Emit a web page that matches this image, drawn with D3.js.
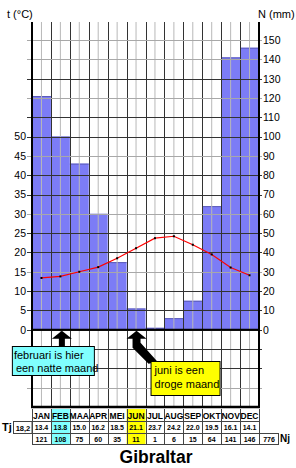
<!DOCTYPE html>
<html>
<head>
<meta charset="utf-8">
<script src="https://cdn.jsdelivr.net/npm/d3@7"></script>
<style>
  body { margin: 0; background: #fff; }
  svg { display: block; font-family: "Liberation Sans", Arial, sans-serif; }
</style>
</head>
<body>
<div id="chart"></div>
<script>
// climate data Gibraltar
const months = ["JAN", "FEB", "MAA", "APR", "MEI", "JUN", "JUL", "AUG", "SEP", "OKT", "NOV", "DEC"];
const tempValues = [13.4, 13.8, 15.0, 16.2, 18.5, 21.1, 23.7, 24.2, 22.0, 19.5, 16.1, 14.1];
const precipBars = [121, 100, 86, 60, 35, 11, 1, 6, 15, 64, 141, 146];
const tempLabels = ["13.4", "13.8", "15.0", "16.2", "18.5", "21.1", "23.7", "24.2", "22.0", "19.5", "16.1", "14.1"];
const precipLabels = ["121", "108", "75", "60", "35", "11", "1", "6", "15", "64", "141", "146"];
const yearTemp = "18,2";
const yearPrecip = "776";
const tempTicks = [0, 5, 10, 15, 20, 25, 30, 35, 40, 45, 50];
const precipTicks = [0, 10, 20, 30, 40, 50, 60, 70, 80, 90, 100, 110, 120, 130, 140, 150];
const gridValues = [-30, -20, -10, 0, 10, 20, 30, 40, 50, 60, 70, 80, 90, 100, 110, 120, 130, 140, 150];
const notes = [
  { month: "FEB", lines: ["februari is hier", "een natte maand"] },
  { month: "JUN", lines: ["juni is een", "droge maand"] }
];

const width = 296, height = 468;
const left = 32, right = 259, gridTop = 22, bottom = 407;
const hiColor = { FEB: "#80ffff", JUN: "#ffff00" };

const svg = d3.select("#chart").append("svg")
  .attr("width", width)
  .attr("height", height);

const x = d3.scaleBand().domain(months).range([left, right]);
const y = d3.scaleLinear().domain([-40, 150]).range([bottom, 40]);      // mm
const yT = d3.scaleLinear().domain([-20, 75]).range([bottom, 40]);      // °C (1°C = 2mm)
const bw = x.bandwidth();
const cx = m => x(m) + bw / 2;

// precipitation bars
svg.append("g").selectAll("rect")
  .data(months)
  .enter().append("rect")
  .attr("x", d => x(d))
  .attr("y", (d, i) => y(precipBars[i]))
  .attr("width", bw)
  .attr("height", (d, i) => y(0) - y(precipBars[i]))
  .style("fill", "#7c7cf6");

svg.append("g").selectAll("line")
  .data(months)
  .enter().append("line")
  .attr("x1", d => x(d)).attr("x2", d => x(d) + bw)
  .attr("y1", (d, i) => y(precipBars[i]) + 0.5)
  .attr("y2", (d, i) => y(precipBars[i]) + 0.5)
  .style("stroke", "#5b5bb8");

// grid
svg.append("g").selectAll("line")
  .data(months)
  .enter().append("line")
  .attr("x1", d => cx(d)).attr("x2", d => cx(d))
  .attr("y1", gridTop).attr("y2", bottom)
  .style("stroke", "#b8b8b8");

svg.append("g").selectAll("line")
  .data(months.slice(1))
  .enter().append("line")
  .attr("x1", d => Math.round(x(d)) + 0.5).attr("x2", d => Math.round(x(d)) + 0.5)
  .attr("y1", gridTop).attr("y2", bottom)
  .style("stroke", "#333");

svg.append("g").selectAll("line")
  .data(gridValues)
  .enter().append("line")
  .attr("x1", left - 5).attr("x2", right + 3)
  .attr("y1", d => Math.round(y(d)) + 0.5).attr("y2", d => Math.round(y(d)) + 0.5)
  .style("stroke", d => (d % 30 === 0 || d === 140) && d !== 0 ? "#a8a8a8" : "#333");

// axes frame
svg.append("line").attr("x1", left).attr("x2", right).attr("y1", y(0)).attr("y2", y(0))
  .style("stroke", "#000").style("stroke-width", 2);
svg.append("line").attr("x1", left - 1).attr("x2", right + 1).attr("y1", bottom).attr("y2", bottom)
  .style("stroke", "#000").style("stroke-width", 2.5);
svg.append("line").attr("x1", left).attr("x2", left).attr("y1", gridTop).attr("y2", bottom)
  .style("stroke", "#000").style("stroke-width", 2);
svg.append("line").attr("x1", right).attr("x2", right).attr("y1", gridTop).attr("y2", bottom)
  .style("stroke", "#000").style("stroke-width", 2);

// axis labels
const axL = svg.append("g")
  .attr("transform", `translate(${left},0)`)
  .call(d3.axisLeft(yT).tickValues(tempTicks).tickSize(5).tickPadding(1));
const axR = svg.append("g")
  .attr("transform", `translate(${right},0)`)
  .call(d3.axisRight(y).tickValues(precipTicks).tickSize(3).tickPadding(1));
[axL, axR].forEach(a => {
  a.select(".domain").remove();
  a.selectAll("line").remove();
  a.selectAll("text").style("font-size", "10.5px").style("font-family", "Liberation Sans, Arial, sans-serif").style("fill", "#000");
});

svg.append("text").attr("x", 7).attr("y", 18).style("font-size", "11px").text("t (°C)");
svg.append("text").attr("x", 258).attr("y", 18).style("font-size", "11px").text("N (mm)");

// temperature line
const line = d3.line()
  .x((d, i) => cx(months[i]))
  .y(d => yT(d));

svg.append("path")
  .datum(tempValues)
  .attr("d", line)
  .style("fill", "none")
  .style("stroke", "#ff0000")
  .style("stroke-width", 1.2);

svg.append("g").selectAll("rect")
  .data(tempValues)
  .enter().append("rect")
  .attr("x", (d, i) => cx(months[i]) - 1)
  .attr("y", d => yT(d) - 1)
  .attr("width", 2).attr("height", 2)
  .style("fill", "#000");

// arrows + callouts
const a1 = cx("FEB") + 1.5, a2 = cx("JUN") + 0.5, tip = y(0) + 1;
svg.append("polygon")
  .attr("points", [[a1, tip], [a1 + 10, tip + 8], [a1 + 3, tip + 8], [a1 + 3, tip + 17], [a1 - 3, tip + 17], [a1 - 3, tip + 8], [a1 - 10, tip + 8]].join(" "))
  .style("fill", "#000");
svg.append("polygon")
  .attr("points", [[a2, tip], [a2 + 10, tip + 8], [a2 + 4, tip + 8], [a2 + 4, tip + 12], [a2 + 21, tip + 31], [a2 + 12, tip + 33], [a2 - 4, tip + 17], [a2 - 4, tip + 8], [a2 - 10, tip + 8]].join(" "))
  .style("fill", "#000");

const boxes = [
  { x: a1 - 50, y: 346, w: 82, h: 29, tx: [a1 - 48, a1 - 46], ty: [359, 372] },
  { x: a2 + 14, y: 361, w: 69, h: 34, tx: [a2 + 18, a2 + 18], ty: [374, 388] }
];
notes.forEach((n, i) => {
  const b = boxes[i];
  svg.append("rect")
    .attr("x", b.x + 0.5).attr("y", b.y + 0.5)
    .attr("width", b.w).attr("height", b.h)
    .style("fill", hiColor[n.month]).style("stroke", "#000");
  n.lines.forEach((t, j) => {
    svg.append("text")
      .attr("x", b.tx[j]).attr("y", b.ty[j])
      .style("font-size", "11px")
      .text(t);
  });
});

// table
const rows = [409, 421, 432.5, 444];
const table = svg.append("g");
table.selectAll("rect.hi")
  .data(months.filter(m => hiColor[m]))
  .enter().append("rect")
  .attr("x", d => x(d)).attr("y", rows[0])
  .attr("width", bw).attr("height", rows[3] - rows[0])
  .style("fill", d => hiColor[d]);

table.selectAll("line.v")
  .data(months.concat(["end"]))
  .enter().append("line")
  .attr("x1", d => d === "end" ? right + 0.5 : Math.round(x(d)) + 0.5)
  .attr("x2", d => d === "end" ? right + 0.5 : Math.round(x(d)) + 0.5)
  .attr("y1", rows[0]).attr("y2", rows[3])
  .style("stroke", "#444");

[rows[1], rows[2], rows[3]].forEach(r => {
  table.append("line")
    .attr("x1", left).attr("x2", right + 1)
    .attr("y1", Math.round(r) + 0.5).attr("y2", Math.round(r) + 0.5)
    .style("stroke", "#444");
});

// year boxes
table.append("rect").attr("x", 13.5).attr("y", Math.round(rows[1]) + 0.5)
  .attr("width", left - 13.5).attr("height", Math.round(rows[2]) - Math.round(rows[1]))
  .style("fill", "none").style("stroke", "#444");
table.append("rect").attr("x", right + 0.5).attr("y", Math.round(rows[2]) + 0.5)
  .attr("width", 19).attr("height", Math.round(rows[3]) - Math.round(rows[2]))
  .style("fill", "none").style("stroke", "#444");

table.selectAll("text.m")
  .data(months)
  .enter().append("text")
  .attr("x", d => cx(d)).attr("y", 418.5)
  .attr("text-anchor", "middle")
  .style("font-size", "8.5px").style("font-weight", "bold")
  .text(d => d);

table.selectAll("text.t")
  .data(tempLabels)
  .enter().append("text")
  .attr("x", (d, i) => cx(months[i])).attr("y", 430)
  .attr("text-anchor", "middle")
  .style("font-size", "7px").style("font-weight", "bold")
  .text(d => d);

table.selectAll("text.p")
  .data(precipLabels)
  .enter().append("text")
  .attr("x", (d, i) => cx(months[i])).attr("y", 441.5)
  .attr("text-anchor", "middle")
  .style("font-size", "7px").style("font-weight", "bold")
  .text(d => d);

table.append("text").attr("x", 2).attr("y", 431).style("font-size", "11px").style("font-weight", "bold").text("Tj");
table.append("text").attr("x", 23).attr("y", 430.5).attr("text-anchor", "middle").style("font-size", "7.5px").style("font-weight", "bold").text(yearTemp);
table.append("text").attr("x", right + 10).attr("y", 441.5).attr("text-anchor", "middle").style("font-size", "7px").style("font-weight", "bold").text(yearPrecip);
table.append("text").attr("x", 280).attr("y", 442).style("font-size", "10px").style("font-weight", "bold").text("Nj");

// title
svg.append("text")
  .attr("x", 156).attr("y", 463)
  .attr("text-anchor", "middle")
  .style("font-size", "17.5px").style("font-weight", "bold")
  .text("Gibraltar");
</script>
</body>
</html>
